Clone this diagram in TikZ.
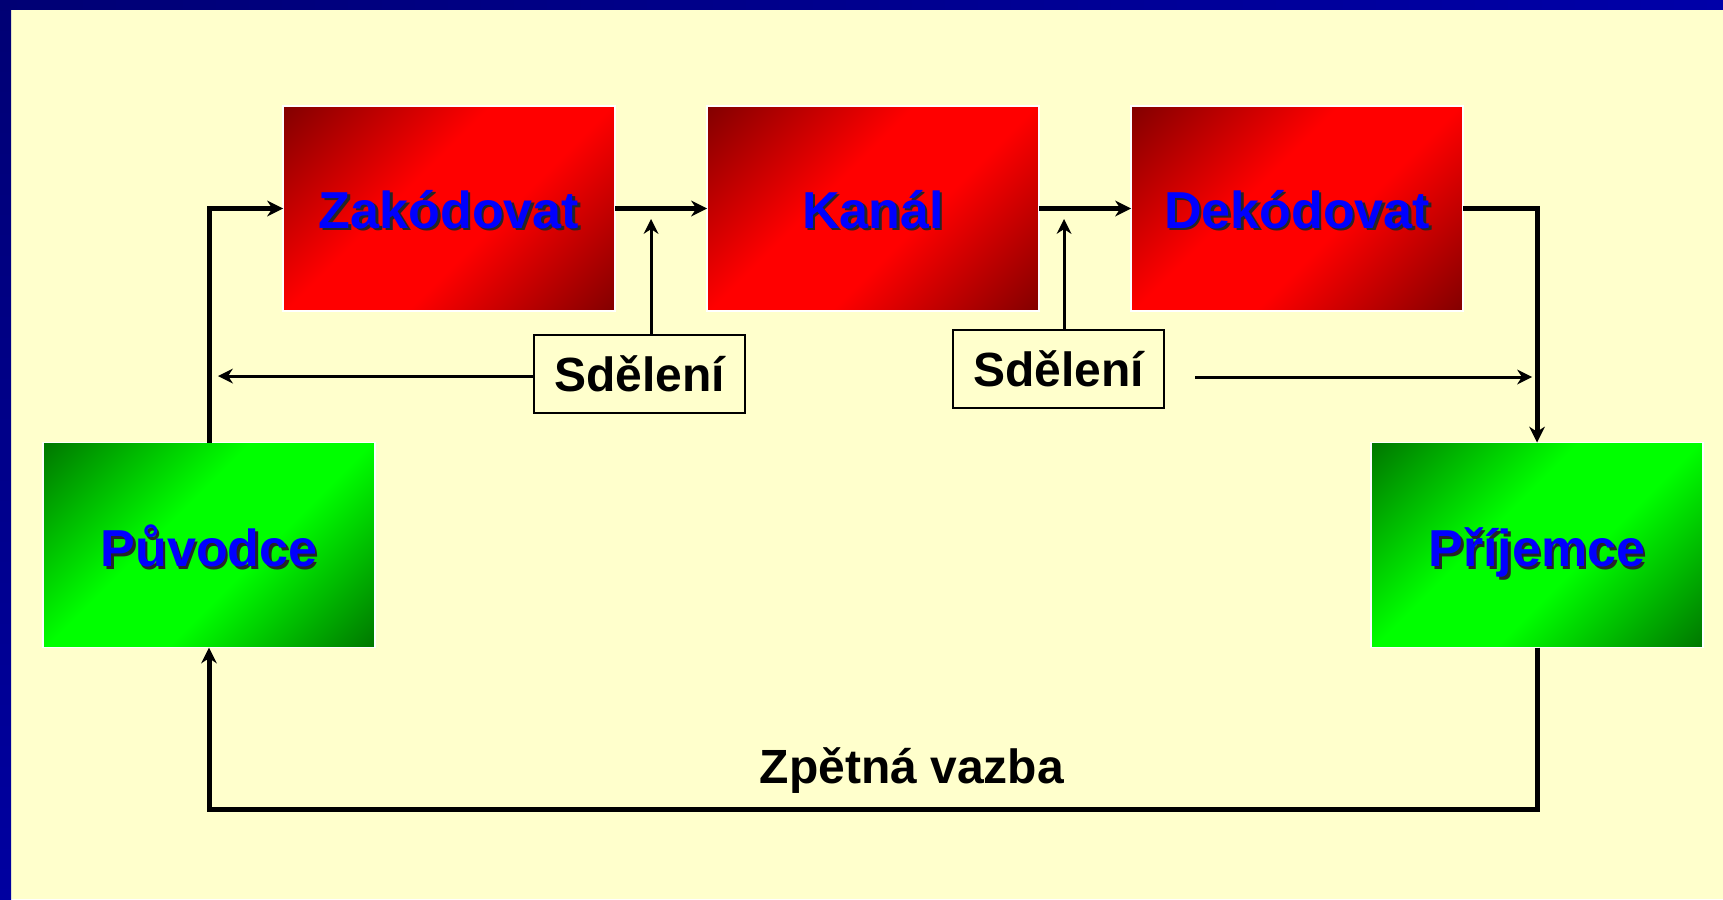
\documentclass[tikz,border=0pt]{standalone}
\usepackage{fontspec}
\setmainfont{Liberation Sans}
\usetikzlibrary{arrows.meta}
\definecolor{bgc}{HTML}{FFFFCC}
\definecolor{navyA}{HTML}{000074}
\definecolor{navyB}{HTML}{0000A8}
\definecolor{navyC}{HTML}{0000A0}
\definecolor{rdark}{HTML}{800000}
\definecolor{rlight}{HTML}{FF0000}
\definecolor{gdark}{HTML}{007400}
\definecolor{glight}{HTML}{00FF00}
\definecolor{shadowc}{HTML}{262626}
\definecolor{lblblue}{HTML}{0000FF}
\pgfdeclareverticalshading{redsh}{100bp}{color(0bp)=(rdark); color(14bp)=(rdark); color(42bp)=(rlight); color(58bp)=(rlight); color(86bp)=(rdark); color(100bp)=(rdark)}
\pgfdeclareverticalshading{greensh}{100bp}{color(0bp)=(gdark); color(14bp)=(gdark); color(42bp)=(glight); color(58bp)=(glight); color(86bp)=(gdark); color(100bp)=(gdark)}
\newcommand\shtxt[1]{\leavevmode\rlap{\kern2.5pt\raisebox{-2.5pt}{\textcolor{shadowc}{#1}}}#1}
\tikzset{
  box/.style={shade, shading angle=45, draw=white, line width=1.5pt,
    minimum width=332pt, minimum height=205pt, inner sep=0pt, outer sep=0pt,
    text=lblblue, font=\bfseries\fontsize{52}{60}\selectfont, text depth=0pt},
  redbox/.style={box, shading=redsh, shading angle=45, text height=39pt},
  greenbox/.style={box, shading=greensh, shading angle=45, text height=43pt},
  msgbox/.style={draw=black, line width=2pt, fill=bgc, minimum width=211pt,
    minimum height=78pt, inner sep=0pt, outer sep=0pt,
    font=\bfseries\fontsize{48}{56}\selectfont, text height=34pt, text depth=0pt},
  flow/.style={line width=5pt, -{Stealth[length=16pt,width=16pt,line width=0pt]}},
  msg/.style={line width=3pt, -{Stealth[length=15pt,width=15pt,line width=0pt]}},
}
\begin{document}
\begin{tikzpicture}[x=1pt,y=-1pt]
\useasboundingbox (0,0) rectangle (1723,899);
% background
\fill[bgc] (0,0) rectangle (1723,899);
\shade[top color=navyA, bottom color=navyC] (0,0) rectangle (11,899);
\shade[left color=navyA, right color=navyB] (0,0) rectangle (1723,10);

% boxes
\node[redbox] (zak) at (449,208.5) {\shtxt{Zakódovat}};
\node[redbox] (kan) at (873,208.5) {\shtxt{Kanál}};
\node[redbox] (dek) at (1297,208.5) {\shtxt{Dekódovat}};
\node[greenbox] (puv) at (209,545) {\shtxt{Původce}};
\node[greenbox] (pri) at (1537,545) {\shtxt{Příjemce}};

% message boxes
\node[msgbox] (s1) at (639.5,374) {Sdělení};
\node[msgbox] (s2) at (1058.5,369) {Sdělení};

% feedback label
\node[anchor=base, inner sep=0pt, font=\bfseries\fontsize{48}{56}\selectfont] (zv) at (912,783) {Zpětná vazba};

% free coordinates
\coordinate (s1up) at (651,219);
\coordinate (s1left) at (218,376);
\coordinate (s2up) at (1064,219);
\coordinate (s2a) at (1195,377);
\coordinate (s2b) at (1532,377);
\coordinate (fbL) at (209,809);

% main flow
\draw[flow] (puv.north) |- (zak.west);
\draw[flow] (zak.east) -- (kan.west);
\draw[flow] (kan.east) -- (dek.west);
\draw[flow] (dek.east) -| (pri.north);
\draw[flow] (pri.south) |- (fbL) -- (puv.south);

% message arrows
\draw[msg] (s1.north -| s1up) -- (s1up);
\draw[msg] (s1.west |- s1left) -- (s1left);
\draw[msg] (s2.north -| s2up) -- (s2up);
\draw[msg] (s2a) -- (s2b);
\end{tikzpicture}
\end{document}
